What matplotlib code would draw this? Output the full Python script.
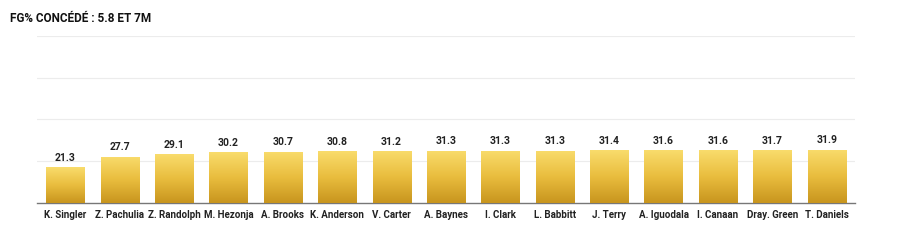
import numpy as np
import matplotlib.pyplot as plt
from matplotlib.colors import LinearSegmentedColormap

players = ['K. Singler', 'Z. Pachulia', 'Z. Randolph', 'M. Hezonja', 'A. Brooks',
           'K. Anderson', 'V. Carter', 'A. Baynes', 'I. Clark', 'L. Babbitt',
           'J. Terry', 'A. Iguodala', 'I. Canaan', 'Dray. Green', 'T. Daniels']
fg_pct = [21.3, 27.7, 29.1, 30.2, 30.7, 30.8, 31.2, 31.3, 31.3, 31.3,
          31.4, 31.6, 31.6, 31.7, 31.9]

plt.rcParams['font.family'] = ['Roboto', 'DejaVu Sans']

fig = plt.figure(figsize=(9, 2.43), dpi=100)
ax = fig.add_axes([0.041, 0.165, 0.909, 0.687])

cmap = LinearSegmentedColormap.from_list('gold', ['#c8951e', '#e9bd3e', '#f9dc6c'])
grad = np.linspace(0, 1, 256).reshape(-1, 1)

x = np.arange(len(players))
bars = ax.bar(x, fg_pct, width=0.7, color='none', zorder=3)
for b, v in zip(bars, fg_pct):
    im = ax.imshow(grad, cmap=cmap, origin='lower', aspect='auto',
                   extent=[b.get_x(), b.get_x() + b.get_width(), 0, v], zorder=3)
    im.set_clip_path(b)
    ax.text(b.get_x() + b.get_width() / 2, v + 2.5, f'{v}', ha='center', va='bottom',
            fontsize=7.5, fontweight='bold', color='#222222')

ax.set_xlim(-0.52, len(players) - 0.48)
ax.set_ylim(0, 100)
ax.set_yticks([25, 50, 75, 100])
ax.set_yticklabels([])
ax.tick_params(axis='y', length=0)
ax.grid(axis='y', color='#ececec', lw=0.8, zorder=0)
ax.set_xticks(x)
ax.set_xticklabels(players, fontsize=7, fontweight='bold', color='#222222')
ax.tick_params(axis='x', length=0, pad=5)
for s in ['top', 'right', 'left']:
    ax.spines[s].set_visible(False)
ax.spines['bottom'].set_color('#777777')
ax.spines['bottom'].set_linewidth(1)

fig.text(0.011, 0.925, 'FG% CONCÉDÉ : 5.8 ET 7M', fontsize=8.5, fontweight='bold',
         color='#111111', va='center', ha='left')

fig.savefig('out.png', dpi=100, facecolor='white')
